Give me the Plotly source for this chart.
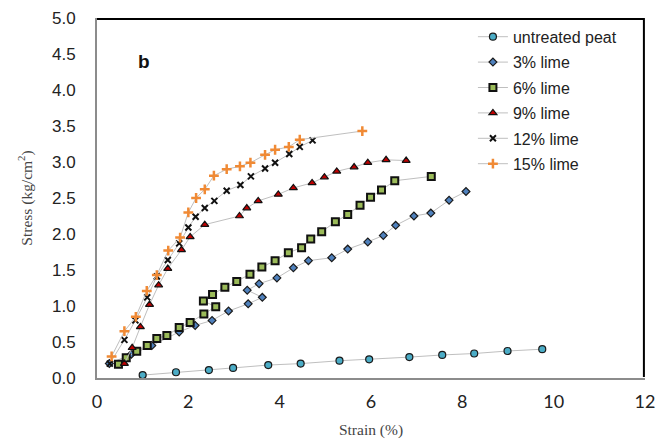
import plotly.graph_objects as go

# Stress-strain data for peat stabilised with different lime contents
untreated_x = [1.00, 1.73, 2.45, 2.98, 3.75, 4.46, 5.31, 5.96, 6.84, 7.56, 8.26, 8.99, 9.75]
untreated_y = [0.04, 0.08, 0.11, 0.14, 0.18, 0.20, 0.24, 0.26, 0.29, 0.32, 0.34, 0.375, 0.40]

lime3_x = [0.27, 0.75, 1.20, 1.80, 2.15, 2.52, 2.88, 3.31, 3.62, 3.29, 3.55, 3.94, 4.30, 4.63,
           5.14, 5.49, 5.93, 6.27, 6.54, 6.94, 7.31, 7.71, 8.08]
lime3_y = [0.20, 0.33, 0.45, 0.64, 0.73, 0.80, 0.93, 1.03, 1.12, 1.22, 1.31, 1.39, 1.53, 1.63,
           1.67, 1.79, 1.89, 1.98, 2.12, 2.25, 2.29, 2.47, 2.59]

lime6_x = [0.47, 0.64, 0.87, 1.10, 1.31, 1.53, 1.80, 2.04, 2.34, 2.60, 2.33, 2.53, 2.80, 3.06,
           3.35, 3.61, 3.90, 4.19, 4.48, 4.68, 4.92, 5.22, 5.49, 5.76, 5.99, 6.23, 6.52, 7.32]
lime6_y = [0.19, 0.28, 0.37, 0.45, 0.55, 0.59, 0.70, 0.77, 0.89, 0.99, 1.07, 1.16, 1.26, 1.34,
           1.44, 1.54, 1.63, 1.74, 1.81, 1.93, 2.03, 2.17, 2.27, 2.40, 2.51, 2.61, 2.74, 2.80]

lime9_x = [0.60, 0.77, 0.95, 1.15, 1.35, 1.55, 1.85, 2.04, 2.36, 3.12, 3.28, 3.53, 3.97, 4.30,
           4.71, 4.98, 5.25, 5.63, 5.93, 6.33, 6.77]
lime9_y = [0.20, 0.42, 0.71, 1.02, 1.29, 1.52, 1.78, 1.96, 2.13, 2.25, 2.36, 2.46, 2.55, 2.64,
           2.71, 2.79, 2.87, 2.93, 2.99, 3.03, 3.02]

lime12_x = [0.28, 0.60, 0.84, 1.10, 1.31, 1.55, 1.80, 2.00, 2.16, 2.36, 2.57, 2.84, 3.14, 3.37,
            3.68, 3.90, 4.21, 4.44, 4.72]
lime12_y = [0.20, 0.53, 0.80, 1.12, 1.41, 1.64, 1.87, 2.09, 2.24, 2.36, 2.46, 2.60, 2.68, 2.80,
            2.91, 2.99, 3.11, 3.21, 3.30]

lime15_x = [0.32, 0.60, 0.85, 1.09, 1.31, 1.56, 1.82, 2.00, 2.17, 2.36, 2.56, 2.84, 3.13, 3.36,
            3.68, 3.90, 4.20, 4.44, 5.81]
lime15_y = [0.30, 0.65, 0.85, 1.21, 1.43, 1.77, 1.95, 2.30, 2.50, 2.62, 2.81, 2.90, 2.94, 2.99,
            3.10, 3.17, 3.21, 3.31, 3.43]

x_ticks = [0, 2, 4, 6, 8, 10, 12]
y_ticks = [0.0, 0.5, 1.0, 1.5, 2.0, 2.5, 3.0, 3.5, 4.0, 4.5, 5.0]

LINE_COLOR = "#BFBFBF"

series = [
    ("untreated peat", untreated_x, untreated_y,
     dict(symbol="circle", size=7, color="#4BACC6", line=dict(color="#1a1a1a", width=1.2))),
    ("3% lime", lime3_x, lime3_y,
     dict(symbol="diamond", size=6, color="#4F81BD", line=dict(color="#1a1a1a", width=1.2))),
    ("6% lime", lime6_x, lime6_y,
     dict(symbol="square", size=7, color="#9BBB59", line=dict(color="#111111", width=2))),
    ("9% lime", lime9_x, lime9_y,
     dict(symbol="triangle-up", size=7, color="#C00000", line=dict(color="#111111", width=1.2))),
    ("12% lime", lime12_x, lime12_y,
     dict(symbol="x-thin", size=6, color="#111111", line=dict(color="#111111", width=2))),
    ("15% lime", lime15_x, lime15_y,
     dict(symbol="cross-thin", size=7, color="#F08A35", line=dict(color="#F08A35", width=2.5))),
]

fig = go.Figure()
for i, (name, xs, ys, marker) in enumerate(series):
    fig.add_trace(go.Scatter(
        x=xs, y=ys, name=name, mode="lines+markers",
        line=dict(color=LINE_COLOR, width=1),
        marker=marker, legendgroup=f"g{i}",
    ))

axis_common = dict(showgrid=False, zeroline=False, ticks="", automargin=False,
                   showline=True, linecolor="#8C8C8C", linewidth=2)

fig.update_layout(
    width=658, height=439,
    margin=dict(l=97, r=13, t=18, b=61, autoexpand=False),
    paper_bgcolor="white", plot_bgcolor="white",
    showlegend=True,
    legend=dict(
        x=0.686, y=0.995, xanchor="left", yanchor="top",
        font=dict(family="Liberation Sans, Arial", size=16, color="#222222"),
        bgcolor="rgba(0,0,0,0)", tracegroupgap=1.6, traceorder="grouped",
    ),
    xaxis=dict(
        range=[0, 12], tickvals=x_ticks, ticktext=[str(v) for v in x_ticks],
        ticklabelstandoff=6,
        tickfont=dict(family="Lato, Open Sans", size=18, color="#222222"),
        title=dict(text="Strain (%)", standoff=17,
                   font=dict(family="Liberation Serif, Times New Roman", size=15.5, color="#444444")),
        **axis_common,
    ),
    yaxis=dict(
        range=[0, 5], tickvals=y_ticks, ticktext=[f"{v:.1f}" for v in y_ticks],
        ticklabelstandoff=16,
        tickfont=dict(family="Liberation Sans, Arial", size=17, color="#222222"),
        title=dict(text="Stress (kg/cm<sup>2</sup>)", standoff=16,
                   font=dict(family="Liberation Serif, Times New Roman", size=15.5, color="#444444")),
        **axis_common,
    ),
    # Black top and right edges of the plotting frame
    shapes=[
        dict(type="path", xref="paper", yref="paper",
             path="M 0,0.997 L 0.998,0.997 L 0.998,0.003",
             line=dict(color="#000000", width=2), layer="above"),
    ],
)

# Panel label
fig.add_annotation(xref="paper", yref="paper", x=0.086, y=0.88, text="<b>b</b>",
                   xanchor="center", yanchor="middle",
                   showarrow=False, font=dict(family="Liberation Sans, Arial", size=19, color="#111111"))

fig.write_html("out.html")
